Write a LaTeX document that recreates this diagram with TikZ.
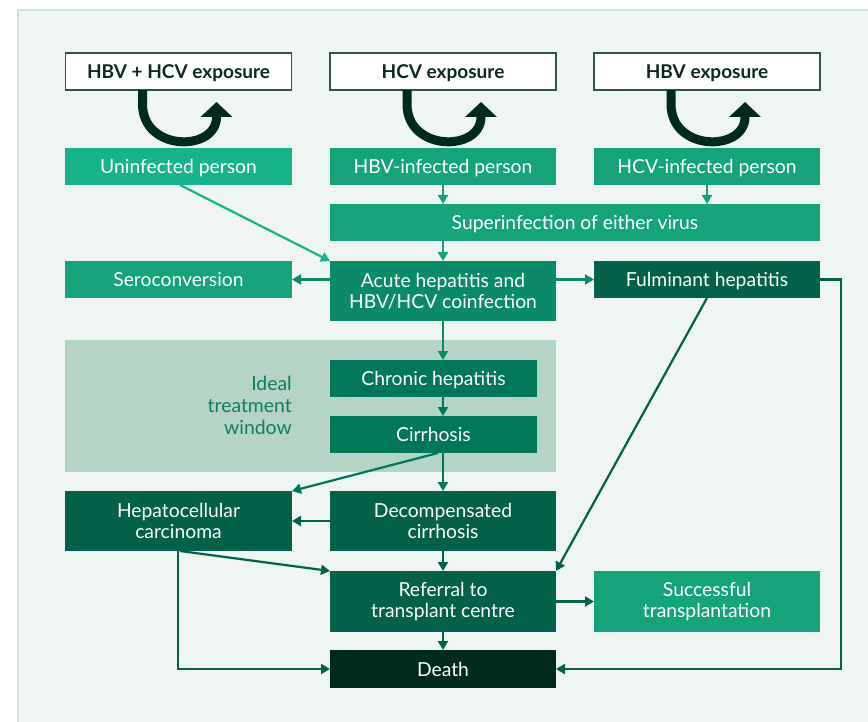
\documentclass[tikz,border=0pt]{standalone}
\usepackage{fontspec}
\setmainfont{Lato}
\usetikzlibrary{arrows.meta,calc}
\definecolor{panelbg}{HTML}{EEF5F2}
\definecolor{panelline}{HTML}{CFE2DA}
\definecolor{topline}{HTML}{2F5546}
\definecolor{toptext}{HTML}{0B2A1D}
\definecolor{darkest}{HTML}{002A1A}
\definecolor{cbright}{HTML}{17B48B}
\definecolor{cmid}{HTML}{15A37C}
\definecolor{cacute}{HTML}{0A8A69}
\definecolor{cchron}{HTML}{00765A}
\definecolor{cdark}{HTML}{03614A}
\definecolor{cwindow}{HTML}{B4D4C6}
\definecolor{cwtext}{HTML}{0F7C5F}
\begin{document}
\begin{tikzpicture}[x=1pt,y=-1pt,
  box/.style={rectangle,inner sep=0pt,outer sep=0pt,text=white,align=center,
    font=\fontsize{19.3}{21}\selectfont},
  oneline/.style={text depth=0pt},
  topbox/.style={rectangle,inner sep=0pt,outer sep=0pt,draw=topline,line width=1.4pt,
    fill=white,text=toptext,font=\bfseries\fontsize{19}{21}\selectfont,
    minimum width=226pt,minimum height=37pt,text depth=0pt},
  arr/.style={line width=2.2pt,-{Triangle[length=9pt,width=10pt]}},
  uturn/.style={line width=9pt,draw=darkest,-{Triangle[length=15pt,width=31pt]}}
]
\useasboundingbox (0,0) rectangle (868,722);
\fill[white] (0,0) rectangle (868,722);
\fill[panelbg] (18,10) rectangle (880,740);
\draw[panelline,line width=1.5pt] (18,740) -- (18,10) -- (880,10);

% treatment window
\fill[cwindow] (65,340) rectangle (556,472);
\node[anchor=east,align=right,text=cwtext,font=\fontsize{19.4}{22}\selectfont,inner sep=0pt]
  (wintext) at (292,405) {Ideal\\treatment\\window};

% top exposure boxes
\node[topbox] (b1) at (178.5,71.5) {HBV + HCV exposure};
\node[topbox] (b2) at (443,71.5) {HCV exposure};
\node[topbox] (b3) at (707,71.5) {HBV exposure};

% infected row
\node[box,oneline,fill=cbright,minimum width=227pt,minimum height=37pt] (uninf) at (178.5,166.5) {Uninfected person};
\node[box,oneline,fill=cmid,minimum width=226pt,minimum height=37pt] (hbvi) at (443,166.5) {HBV-infected person};
\node[box,oneline,fill=cmid,minimum width=226pt,minimum height=37pt] (hcvi) at (707,166.5) {HCV-infected person};

% u-turn arrows
\foreach \b in {b1,b2,b3}{
  \draw[uturn] ($(\b.south west)+(77,0)$) -- ++(0,14)
     .. controls ++(0,48) and ($(\b.south west)+(151,62)$) .. ($(\b.south west)+(151,27)$)
     -- ($(\b.south west)+(151,12)$);
}

\node[box,oneline,fill=cmid,minimum width=490pt,minimum height=37pt] (super) at (575,222.5) {Superinfection of either virus};

\node[box,oneline,fill=cmid,minimum width=227pt,minimum height=37pt] (sero) at (178.5,279.5) {Seroconversion};
\node[box,fill=cacute,minimum width=226pt,minimum height=60pt] (acute) at (443,291) {Acute hepatitis and\\HBV/HCV coinfection};
\node[box,oneline,fill=cdark,minimum width=226pt,minimum height=37pt] (fulm) at (707,279.5) {Fulminant hepatitis};

\node[box,oneline,fill=cchron,minimum width=207pt,minimum height=37pt] (chronic) at (433.5,378.5) {Chronic hepatitis};
\node[box,oneline,fill=cchron,minimum width=207pt,minimum height=37pt] (cirr) at (433.5,434.5) {Cirrhosis};

\node[box,fill=cdark,minimum width=227pt,minimum height=60pt] (hcc) at (178.5,521) {Hepatocellular\\carcinoma};
\node[box,fill=cdark,minimum width=226pt,minimum height=60pt] (decomp) at (443,521) {Decompensated\\cirrhosis};
\node[box,fill=cdark,minimum width=226pt,minimum height=61pt] (referral) at (443,601.5) {Referral to\\transplant centre};
\node[box,fill=cmid,minimum width=226pt,minimum height=61pt] (success) at (707,601.5) {Successful\\transplantation};
\node[box,oneline,fill=darkest,minimum width=226pt,minimum height=38pt] (death) at (443,669) {Death};

% connectors
\draw[arr,cmid] (hbvi.south) -- (hbvi.south |- super.north);
\draw[arr,cmid] (hcvi.south) -- (hcvi.south |- super.north);
\draw[arr,cmid] (acute.north |- super.south) -- (acute.north);
\draw[arr,cbright] ($(uninf.south)+(1.5,0)$) -- (acute.north west);
\draw[arr,cacute] (acute.west |- sero.east) -- (sero.east);
\draw[arr,cacute] (acute.east |- fulm.west) -- (fulm.west);
\draw[arr,cacute] (acute.south) -- (acute.south |- chronic.north);
\draw[arr,cchron] (acute.south |- chronic.south) -- (acute.south |- cirr.north);
\draw[arr,cchron] (decomp.north |- cirr.south) -- (decomp.north);
\draw[arr,cchron] ($(cirr.south)+(4.5,0)$) -- (hcc.north east);
\draw[arr,cdark] (decomp.west) -- (hcc.east);
\draw[arr,cdark] (decomp.south) -- (referral.north);
\draw[arr,cdark] ($(hcc.south)+(1.5,0)$) -- (referral.north west);
\draw[arr,cdark] ($(hcc.south)+(-0.5,0)$) |- (death.west);
\draw[arr,cdark] (referral.south) -- (death.north);
\draw[arr,cdark] (referral.east) -- (success.west);
\draw[arr,cdark] (fulm.south) -- (referral.north east);
\draw[arr,cdark] (fulm.east) -- ($(fulm.east)+(21,0)$) |- (death.east);
\end{tikzpicture}
\end{document}
